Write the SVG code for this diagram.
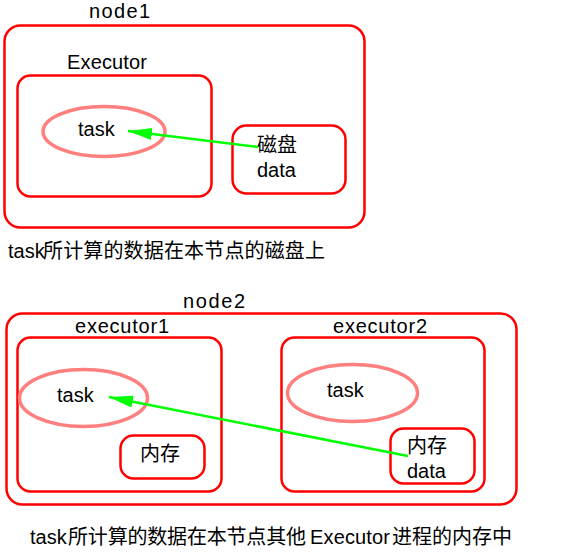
<svg xmlns="http://www.w3.org/2000/svg" width="577" height="554" viewBox="0 0 577 554">
<style>
.box{fill:none;stroke:#ff0000;stroke-width:2.5}
.task{fill:none;stroke:#ff7f7f;stroke-width:3.5}
.t{font-family:"Liberation Sans","Noto Sans CJK SC",sans-serif;font-size:20px;fill:#000}
.cap{font-family:"Liberation Sans","Noto Sans CJK SC",sans-serif;font-size:20px;fill:#000}
.conn{fill:none;stroke:#00ff00;stroke-width:2.5}
</style>
<defs>
<marker id="ah" markerUnits="userSpaceOnUse" markerWidth="26" markerHeight="14" refX="24" refY="6" orient="auto">
<path d="M0,0 L24,6 L0,12 Z" fill="#00ff00"/>
</marker>
</defs>
<rect width="577" height="554" fill="#fff"/>
<g id="node1">
<rect class="box" x="4.5" y="25.5" width="360" height="202" rx="16"/>
<text class="t" x="89" y="18" textLength="61">node1</text>
</g>
<g id="executor">
<rect class="box" x="17.5" y="75.5" width="194" height="121" rx="13"/>
<text class="t" x="67" y="69" textLength="80">Executor</text>
</g>
<g id="task1">
<ellipse class="task" cx="104" cy="131.5" rx="61" ry="25"/>
<text class="t" x="78" y="136">task</text>
</g>
<g id="disk">
<rect class="box" x="232.5" y="125.5" width="113" height="68" rx="14"/>
<text class="t" x="257" y="152">磁盘</text>
<text class="t" x="257" y="177">data</text>
</g>
<text class="cap" x="8" y="258">task<tspan x="43" textLength="282">所计算的数据在本节点的磁盘上</tspan></text>
<g id="node2">
<rect class="box" x="6.5" y="313.5" width="510" height="191" rx="16"/>
<text class="t" x="183" y="308" textLength="62">node2</text>
</g>
<g id="executor1">
<rect class="box" x="17.5" y="337.5" width="204" height="154" rx="13"/>
<text class="t" x="75" y="333" textLength="94">executor1</text>
</g>
<g id="task2">
<ellipse class="task" cx="83.5" cy="398" rx="64" ry="28.5"/>
<text class="t" x="57" y="402">task</text>
</g>
<g id="mem1">
<rect class="box" x="120.5" y="435.5" width="84" height="43" rx="13"/>
<text class="t" x="140" y="461">内存</text>
</g>
<g id="executor2">
<rect class="box" x="281.5" y="337.5" width="203" height="154" rx="13"/>
<text class="t" x="333" y="333" textLength="94">executor2</text>
</g>
<g id="task3">
<ellipse class="task" cx="352.5" cy="393" rx="65" ry="28.5"/>
<text class="t" x="327" y="397">task</text>
</g>
<g id="mem2">
<rect class="box" x="390.5" y="428.5" width="84" height="55" rx="13"/>
<text class="t" x="407" y="453">内存</text>
<text class="t" x="407" y="478">data</text>
</g>
<text class="cap" x="30" y="544">task<tspan x="68" textLength="238">所计算的数据在本节点其他</tspan><tspan x="310" textLength="80">Executor</tspan><tspan x="392" textLength="120">进程的内存中</tspan></text>
<g id="connectors">
<line class="conn" x1="258" y1="147" x2="128" y2="131" marker-end="url(#ah)"/>
<line class="conn" x1="408" y1="456" x2="109" y2="397" marker-end="url(#ah)"/>
</g>
</svg>
